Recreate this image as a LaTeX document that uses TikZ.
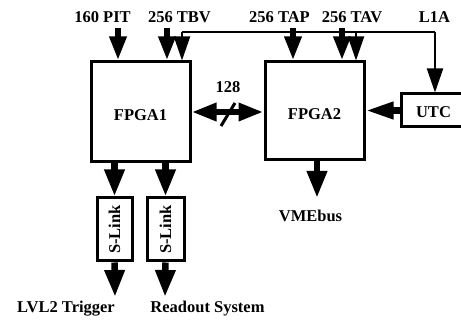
\documentclass[tikz,border=0pt]{standalone}
\usepackage{fontspec}
\setmainfont{Liberation Serif}
\usetikzlibrary{arrows.meta}
\begin{document}
\begin{tikzpicture}[x=1pt,y=-1pt,
  lbl/.style={font=\fontsize{16.5}{19}\selectfont\bfseries, inner sep=0pt, anchor=base},
  blk/.style={draw, line width=3pt, inner sep=0pt, font=\fontsize{16.5}{19}\selectfont\bfseries},
  fat/.style={line width=6.5pt, -{Triangle[length=24pt,width=16pt]}},
  fatlong/.style={line width=6.5pt, -{Triangle[length=27pt,width=19pt]}},
  slim/.style={line width=2pt, -{Triangle[length=24pt,width=16pt]}},
  wire/.style={line width=2pt},
  both/.style={line width=6.5pt, {Triangle[length=25pt,width=17pt]}-{Triangle[length=25pt,width=17pt]}},
  tick/.style={line width=3pt}]
\useasboundingbox (0,0) rectangle (461,320);
\clip (0,0) rectangle (461,320);

% blocks
\node[blk, minimum width=99pt, minimum height=100pt, text height=18pt, text depth=0pt] (fpga1) at (140.5,112) {FPGA1};
\node[blk, minimum width=99pt, minimum height=98pt, text height=18pt, text depth=0pt] (fpga2) at (314.5,111) {FPGA2};
\node[blk, minimum width=65pt, minimum height=33pt, text height=15pt, text depth=0pt] (utc) at (433.5,110.5) {UTC};
\node[blk, rotate=90, minimum width=63pt, minimum height=35pt] (sl1) at (114.5,229.5) {S-Link};
\node[blk, rotate=90, minimum width=63pt, minimum height=37pt] (sl2) at (165.5,229.5) {S-Link};

% top labels
\node[lbl] (pit) at (102.5,23) {160 PIT};
\node[lbl] (tbv) at (179.5,23) {256 TBV};
\node[lbl] (tap) at (279.5,23) {256 TAP};
\node[lbl] (tav) at (352,23) {256 TAV};
\node[lbl] (l1a) at (434.5,23) {L1A};

% bottom labels
\node[lbl] (lvl2) at (66,313) {LVL2 Trigger};
\node[lbl] (ros) at (207.5,313) {Readout System};
\node[lbl] (vme) at (310.5,222) {VMEbus};
\node[lbl] (bw) at (228,93) {128};

% arrow start/end points
\coordinate (pitS) at (118,28);
\coordinate (tbvS) at (167,28);
\coordinate (tbvB) at (182,32);
\coordinate (tapS) at (293,28);
\coordinate (tavS) at (342,28);
\coordinate (tavB) at (356,32);
\coordinate (l1aC) at (435,32);
\coordinate (vmeE) at (317,198);
\coordinate (out1) at (115,297);
\coordinate (out2) at (165,297);

% L1A distribution
\draw[wire] (tbvB) -- (l1aC);
\draw[slim] (tbvB) -- (tbvB |- fpga1.north);
\draw[slim] (tavB) -- (tavB |- fpga2.north);
\draw[slim] (l1aC) -- (l1aC |- utc.north);

% inputs
\draw[fat] (pitS) -- (pitS |- fpga1.north);
\draw[fat] (tbvS) -- (tbvS |- fpga1.north);
\draw[fat] (tapS) -- (tapS |- fpga2.north);
\draw[fat] (tavS) -- (tavS |- fpga2.north);

% FPGA1 <-> FPGA2
\draw[both] (fpga1.east) -- (fpga1.east -| fpga2.west);
\draw[tick] (221,126) -- (235,103);

% UTC -> FPGA2
\draw[fat, -{Triangle[length=28pt,width=16pt]}] (utc.west) -- (utc.west -| fpga2.east);

% outputs
\draw[fatlong] (vmeE |- fpga2.south) -- (vmeE);
\draw[fatlong] (sl1.east |- fpga1.south) -- (sl1.east);
\draw[fatlong] (sl2.east |- fpga1.south) -- (sl2.east);
\draw[fatlong] (sl1.west) -- (out1);
\draw[fatlong] (sl2.west) -- (out2);
\end{tikzpicture}
\end{document}
